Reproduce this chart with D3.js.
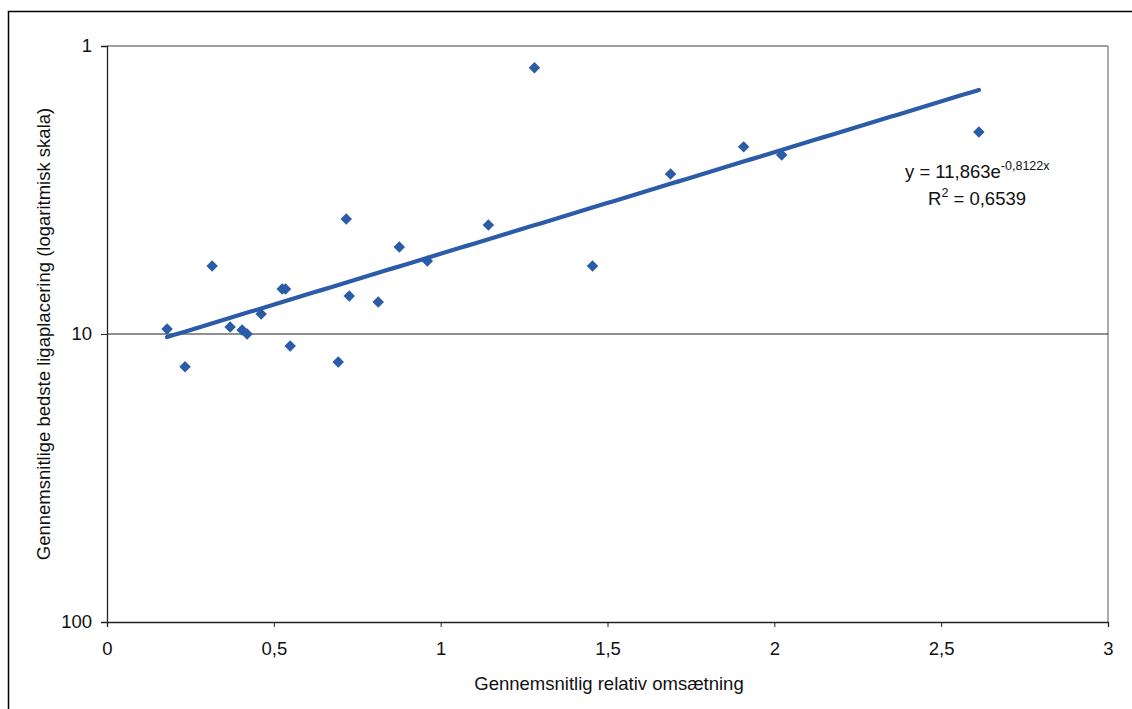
<!DOCTYPE html>
<html><head><meta charset="utf-8">
<script src="https://cdn.jsdelivr.net/npm/d3@7"></script>
<style>body{margin:0;background:#fff}svg{display:block;font-family:"Liberation Sans",Arial,sans-serif}</style>
</head><body>
<svg id="c" width="1132" height="709"></svg>
<script>
const xValues = [0.18,0.234,0.315,0.369,0.405,0.42,0.462,0.525,0.535,0.549,0.693,0.717,0.726,0.813,0.876,0.96,1.143,1.281,1.455,1.689,1.908,2.022,2.613];
const yValues = [9.6,13.0,5.81,9.46,9.69,10.0,8.52,6.98,6.98,11.0,12.5,3.99,7.38,7.74,4.99,5.58,4.18,1.19,5.81,2.78,2.24,2.39,1.99];
const xTicks = [0,0.5,1,1.5,2,2.5,3];
const yTicks = [1,10,100];
const trendA = 11.863, trendB = -0.8122;
const eqText = "y = 11,863e", eqSup = "-0,8122x";
const r2Label = "R", r2Value = " = 0,6539";
const xTitle = "Gennemsnitlig relativ omsætning";
const yTitle = "Gennemsnitlige bedste ligaplacering (logaritmisk skala)";

const svg = d3.select("#c");
const L=107, R=1108, T=46, B=622;
const FS = 18.5;
const x = d3.scaleLinear().domain([0,3]).range([L,R]);
const y = d3.scaleLog().domain([1,100]).range([T,B]);
const fmt = d => String(d).replace(".", ",");
const blue = "#2b5ca8";

// outer frame
svg.append("rect").attr("x",8.5).attr("y",11.5).attr("width",1140).attr("height",720)
  .attr("fill","none").attr("stroke","#000").attr("stroke-width",1.5);

// plot border lines
svg.append("line").attr("x1",L).attr("x2",R).attr("y1",T).attr("y2",T).attr("stroke","#808080").attr("stroke-width",1.5);
svg.append("line").attr("x1",R).attr("x2",R).attr("y1",T).attr("y2",B).attr("stroke","#909090").attr("stroke-width",1.5);
// gridline at 10
svg.append("line").attr("x1",L).attr("x2",R).attr("y1",y(10)).attr("y2",y(10)).attr("stroke","#222").attr("stroke-width",1.2);

// axes
const xa = svg.append("g").attr("transform",`translate(0,${B})`)
  .call(d3.axisBottom(x).tickValues(xTicks).tickFormat(fmt).tickSizeOuter(0).tickSize(5).tickPadding(15));
const ya = svg.append("g").attr("transform",`translate(${L},0)`)
  .call(d3.axisLeft(y).tickValues(yTicks).tickFormat(d=>String(d)).tickSizeOuter(0).tickSize(6).tickPadding(9));
[xa,ya].forEach(g=>{
  g.select(".domain").attr("stroke","#222").attr("stroke-width",1.3);
  g.selectAll(".tick line").attr("stroke","#222");
  g.selectAll("text").attr("font-size",FS).attr("fill","#111").attr("font-family","Liberation Sans, Arial, sans-serif");
});

// trendline
const xs = d3.extent(xValues);
const tl = d3.range(0,101).map(i=>{const xv=xs[0]+(xs[1]-xs[0])*i/100; return [xv, trendA*Math.exp(trendB*xv)];});
svg.append("path").datum(tl).attr("fill","none").attr("stroke",blue).attr("stroke-width",4.2)
  .attr("stroke-linecap","round")
  .attr("d", d3.line().x(d=>x(d[0])).y(d=>y(d[1])));

// points
svg.append("g").selectAll("path").data(xValues.map((v,i)=>[v,yValues[i]])).join("path")
  .attr("d", d3.symbol().type(d3.symbolSquare).size(66))
  .attr("transform",d=>`translate(${x(d[0])},${y(d[1])}) rotate(45)`)
  .attr("fill",blue);

// equation
const eq = svg.append("text").attr("x",905).attr("y",178).attr("font-size",FS).attr("fill","#111");
eq.append("tspan").text(eqText);
eq.append("tspan").attr("dy",-8).attr("font-size",12.5).text(eqSup);
const r2 = svg.append("text").attr("x",928).attr("y",205).attr("font-size",FS).attr("fill","#111");
r2.append("tspan").text(r2Label);
r2.append("tspan").attr("dy",-8).attr("font-size",12.5).text("2");
r2.append("tspan").attr("dy",8).text(r2Value);

// titles
svg.append("text").attr("x",609).attr("y",690).attr("text-anchor","middle").attr("font-size",FS).attr("fill","#111").text(xTitle);
svg.append("text").attr("transform",`translate(50,${(T+B)/2+0}) rotate(-90)`).attr("text-anchor","middle").attr("font-size",FS).attr("fill","#111").text(yTitle);
</script>
</body></html>
